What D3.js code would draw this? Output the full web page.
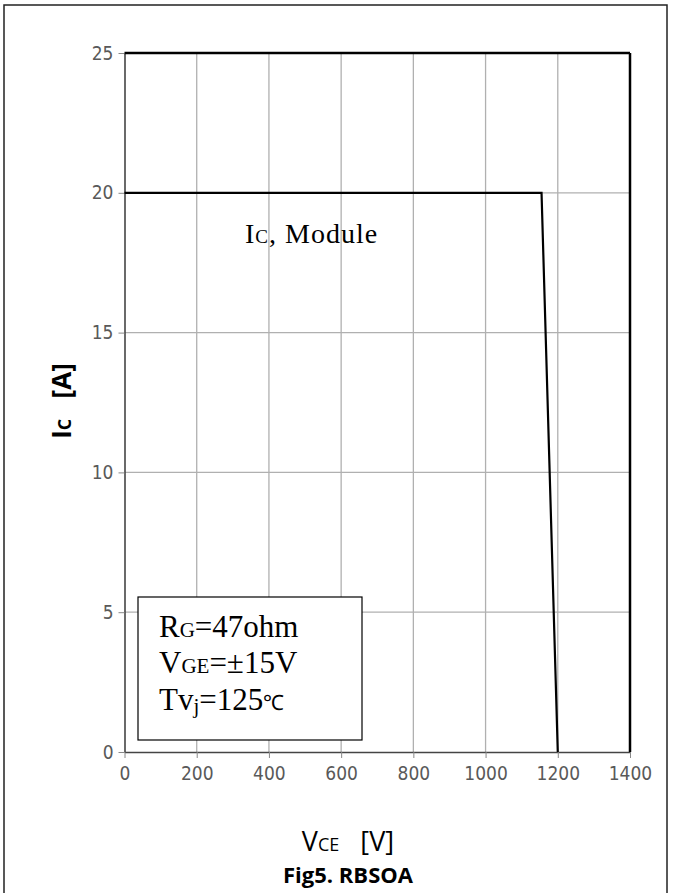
<!DOCTYPE html>
<html><head><meta charset="utf-8">
<script src="https://cdn.jsdelivr.net/npm/d3@7"></script>
<style>body{margin:0;background:#fff}svg{display:block}</style>
</head><body>
<script>
// Data
const xTicks = [0,200,400,600,800,1000,1200,1400];
const yTicks = [0,5,10,15,20,25];
const curveVce = [0, 1155, 1200];
const curveIc  = [20, 20, 0];

const W = 673, H = 893;
const svg = d3.select("body").append("svg").attr("width", W).attr("height", H);
svg.append("rect").attr("width", W).attr("height", H).attr("fill", "#fff");
svg.append("rect").attr("x",4).attr("y",5).attr("width",663).attr("height",895)
  .attr("fill","none").attr("stroke","#222").attr("stroke-width",1.5);

const x = d3.scaleLinear().domain([0,1400]).range([124.5,630]);
const y = d3.scaleLinear().domain([0,25]).range([752,53]);

// grid
svg.append("g").selectAll("line").data(xTicks.slice(1,-1)).join("line")
  .attr("x1",d=>x(d)).attr("x2",d=>x(d)).attr("y1",y(25)).attr("y2",y(0))
  .attr("stroke","#b0b0b0").attr("stroke-width",1.3);
svg.append("g").selectAll("line").data(yTicks.slice(1,-1)).join("line")
  .attr("x1",x(0)).attr("x2",x(1400)).attr("y1",d=>y(d)).attr("y2",d=>y(d))
  .attr("stroke","#b0b0b0").attr("stroke-width",1.3);

// axes
const xAxis = d3.axisBottom(x).tickValues(xTicks).tickFormat(d3.format("d")).tickSize(6).tickSizeOuter(0).tickPadding(6);
const yAxis = d3.axisLeft(y).tickValues(yTicks).tickFormat(d3.format("d")).tickSize(6).tickSizeOuter(0).tickPadding(5);
const gx = svg.append("g").attr("transform",`translate(0,${y(0)})`).call(xAxis);
const gy = svg.append("g").attr("transform",`translate(${x(0)},0)`).call(yAxis);
[gx,gy].forEach(g=>{
  g.select(".domain").attr("stroke","#444").attr("stroke-width",1.6);
  g.selectAll(".tick line").attr("stroke","#888").attr("stroke-width",1);
  g.selectAll(".tick text").attr("fill","#595959")
   .attr("font-family","'DejaVu Sans Condensed','DejaVu Sans',sans-serif").attr("font-stretch","condensed")
   .attr("font-size",19).attr("font-weight",300);
});
gx.selectAll(".tick text").attr("dy","0.85em");

// top and right frame
svg.append("line").attr("x1",x(0)).attr("x2",x(1400)).attr("y1",y(25)).attr("y2",y(25)).attr("stroke","#000").attr("stroke-width",2.5);
svg.append("line").attr("x1",x(1400)).attr("x2",x(1400)).attr("y1",y(25)).attr("y2",y(0)).attr("stroke","#000").attr("stroke-width",2.5);

// curve
const pts = curveVce.map((v,i)=>[v,curveIc[i]]);
svg.append("path").datum(pts)
  .attr("d", d3.line().x(d=>x(d[0])).y(d=>y(d[1])))
  .attr("fill","none").attr("stroke","#000").attr("stroke-width",2.2);

// annotation
const serif = "'Liberation Serif','Times New Roman',serif";
const t1 = svg.append("text").attr("x",245).attr("y",243).attr("font-family",serif).attr("font-size",28)
  .attr("letter-spacing",1).attr("fill","#000");
t1.append("tspan").text("I");
t1.append("tspan").attr("font-size",19).text("C");
t1.append("tspan").text(", Module");

// condition box
svg.append("rect").attr("x",138).attr("y",597).attr("width",224).attr("height",143)
  .attr("fill","#fff").attr("stroke","#000").attr("stroke-width",1.2);
const lines = [
  [["R",null],["G",true],["=47ohm",null]],
  [["V",null],["GE",true],["=±15V",null]],
  [["Tv",null],["j",null],["=125",null],["℃",true]]
];
const baselines = [637, 673, 710];
lines.forEach((ln,i)=>{
  const t = svg.append("text").attr("x",159).attr("y",baselines[i]).attr("font-family",serif).attr("font-size",31).attr("fill","#000");
  ln.forEach(([s,small])=>{
    const ts = t.append("tspan").text(s);
    if(small) ts.attr("font-size",21);
    if(s==="j") ts.attr("font-size",21).attr("dy",3);
    if(s==="=125") ts.attr("dy",-3);
  });
});

// axis titles
const sans = "'Open Sans','Noto Sans','Liberation Sans',sans-serif";
const yl = svg.append("text").attr("transform",`translate(71,${401}) rotate(-90)`).attr("text-anchor","middle")
  .attr("font-family",sans).attr("font-size",26).attr("font-weight","bold").attr("fill","#000");
yl.append("tspan").text("I");
yl.append("tspan").attr("font-size",18).text("C");
yl.append("tspan").text("\u00a0\u00a0\u00a0[A]");

const xl = svg.append("text").attr("x",348).attr("y",851).attr("text-anchor","middle")
  .attr("font-family",sans).attr("font-size",27).attr("fill","#000");
xl.append("tspan").text("V");
xl.append("tspan").attr("font-size",18).text("CE");
xl.append("tspan").text("\u00a0\u00a0\u00a0[V]");

svg.append("text").attr("x",348).attr("y",883).attr("text-anchor","middle")
  .attr("font-family",sans).attr("font-size",22).attr("font-weight","bold").attr("fill","#000")
  .text("Fig5. RBSOA");
</script>
</body></html>
